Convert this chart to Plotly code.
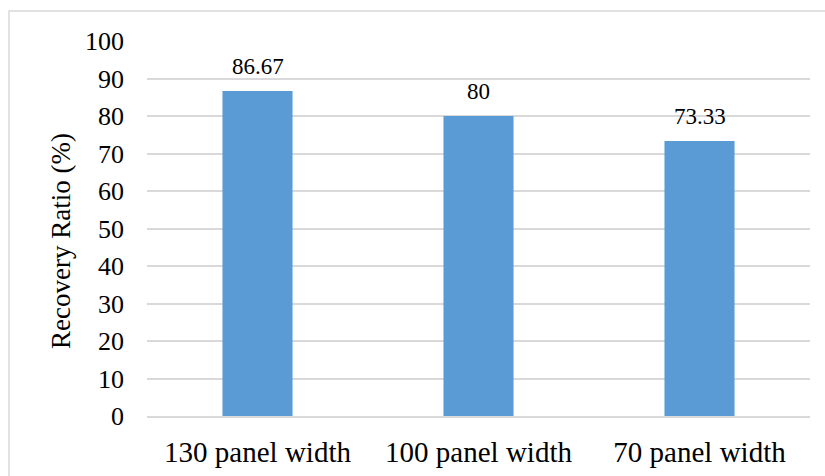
import plotly.graph_objects as go

categories = ["130 panel width", "100 panel width", "70 panel width"]
recovery = [86.67, 80, 73.33]
labels = ["86.67", "80", "73.33"]
y_ticks = list(range(0, 101, 10))
y_title = "Recovery Ratio (%)"

FONT = "Liberation Serif"
BAR_COLOR = "#5B9BD5"
GRID_COLOR = "#d9d9d9"

fig = go.Figure(
    go.Bar(
        x=categories,
        y=recovery,
        marker=dict(color=BAR_COLOR, line=dict(width=0)),
        width=0.317,
        hoverinfo="skip",
    )
)

# value labels above each bar
for cat, val, lab in zip(categories, recovery, labels):
    fig.add_annotation(
        x=cat, y=val, text=lab, showarrow=False,
        yanchor="bottom", yshift=10,
        font=dict(family=FONT, size=23, color="#000000"),
    )

# vertical axis title
fig.add_annotation(
    xref="paper", yref="paper", x=-0.1297, y=0.467,
    text=y_title, textangle=-90, showarrow=False,
    xanchor="center", yanchor="middle",
    font=dict(family=FONT, size=27, color="#000000"),
)

# chart frame
fig.add_shape(
    type="rect", xref="paper", yref="paper",
    x0=-0.2081, x1=1.2, y0=-0.4, y1=1.08,
    line=dict(color=GRID_COLOR, width=1.5), fillcolor="rgba(0,0,0,0)",
    layer="below",
)

fig.update_layout(
    width=825, height=476,
    margin=dict(l=147, r=15, t=41, b=60),
    paper_bgcolor="white", plot_bgcolor="white",
    showlegend=False,
    font=dict(family=FONT, color="#000000"),
    xaxis=dict(
        showgrid=False, showline=True, linecolor=GRID_COLOR, linewidth=1.5,
        ticks="", tickfont=dict(family=FONT, size=29), ticklabelstandoff=9,
        automargin=False,
    ),
    yaxis=dict(
        range=[0, 100], tickvals=y_ticks, showgrid=True,
        gridcolor=GRID_COLOR, gridwidth=1.5, zeroline=False, showline=False,
        ticks="", tickfont=dict(family=FONT, size=26), ticklabelstandoff=22,
        automargin=False,
    ),
)

fig.write_html("out.html")
